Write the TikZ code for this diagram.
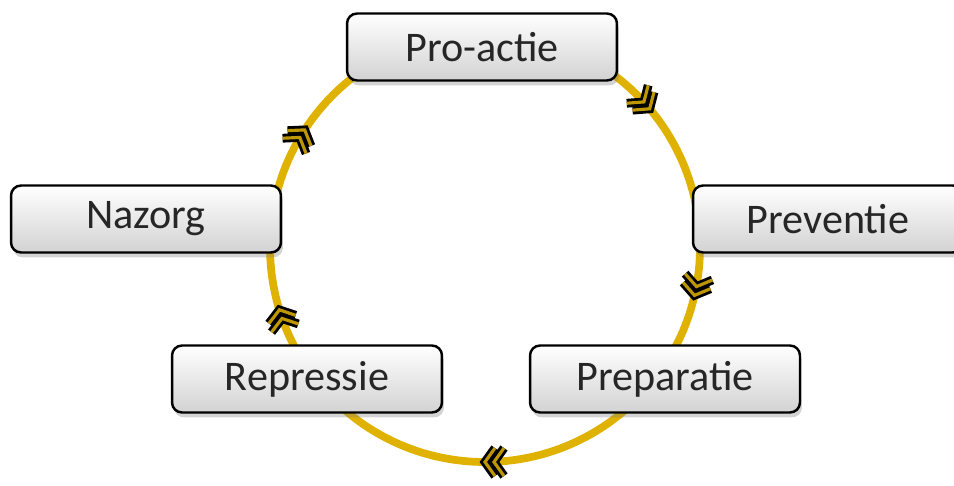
\documentclass[tikz,border=0pt]{standalone}
\usepackage{fontspec}
\setmainfont{Carlito}
\usepackage{xcolor}
\usepackage{tikz}
\usetikzlibrary{shadows,calc}
\definecolor{ringgold}{RGB}{224,178,0}
\tikzset{chev/.pic={
    \foreach \d in {0,-9}{
        \draw[black, line width=5pt, line join=miter] (\d-10,14) -- (\d,0) -- (\d-10,-14);
        \draw[ringgold!85!black, line width=1.8pt, line join=miter] (\d-10,14) -- (\d,0) -- (\d-10,-14);
    }
}}

\begin{document}
\begin{tikzpicture}[x=0.02cm, y=0.02cm,
    phase/.style={rectangle, rounded corners=0.2cm, draw=black, line width=1.4pt, top color=white, bottom color=gray!35, minimum width=5.4cm, minimum height=1.34cm, font=\fontsize{24}{28}\selectfont, text=black!85, drop shadow={opacity=0.35, shadow xshift=0.04cm, shadow yshift=-0.1cm}},
    ring/.style={ringgold, line width=4.4pt}
]
    \useasboundingbox (0,0) rectangle (954,485);

    % cirkel
    \coordinate (c) at (485,238);
    \draw[ring] (c) circle (215);

    % fasen
    \node[phase] (proactie) at (482,438) {Pro-actie};
    \node[phase] (preventie) at (828,266) {Preventie};
    \node[phase] (preparatie) at (665,106) {Preparatie};
    \node[phase] (repressie) at (307,106) {Repressie};
    \node[phase] (nazorg) at (146,266) {Nazorg};

    % pijltjes (met de klok mee)
    \foreach \a in {40,-13,-90,197,147}
        \pic[rotate=\a-90] at ($(c)+(\a:215)$) {chev};
\end{tikzpicture}
\end{document}
